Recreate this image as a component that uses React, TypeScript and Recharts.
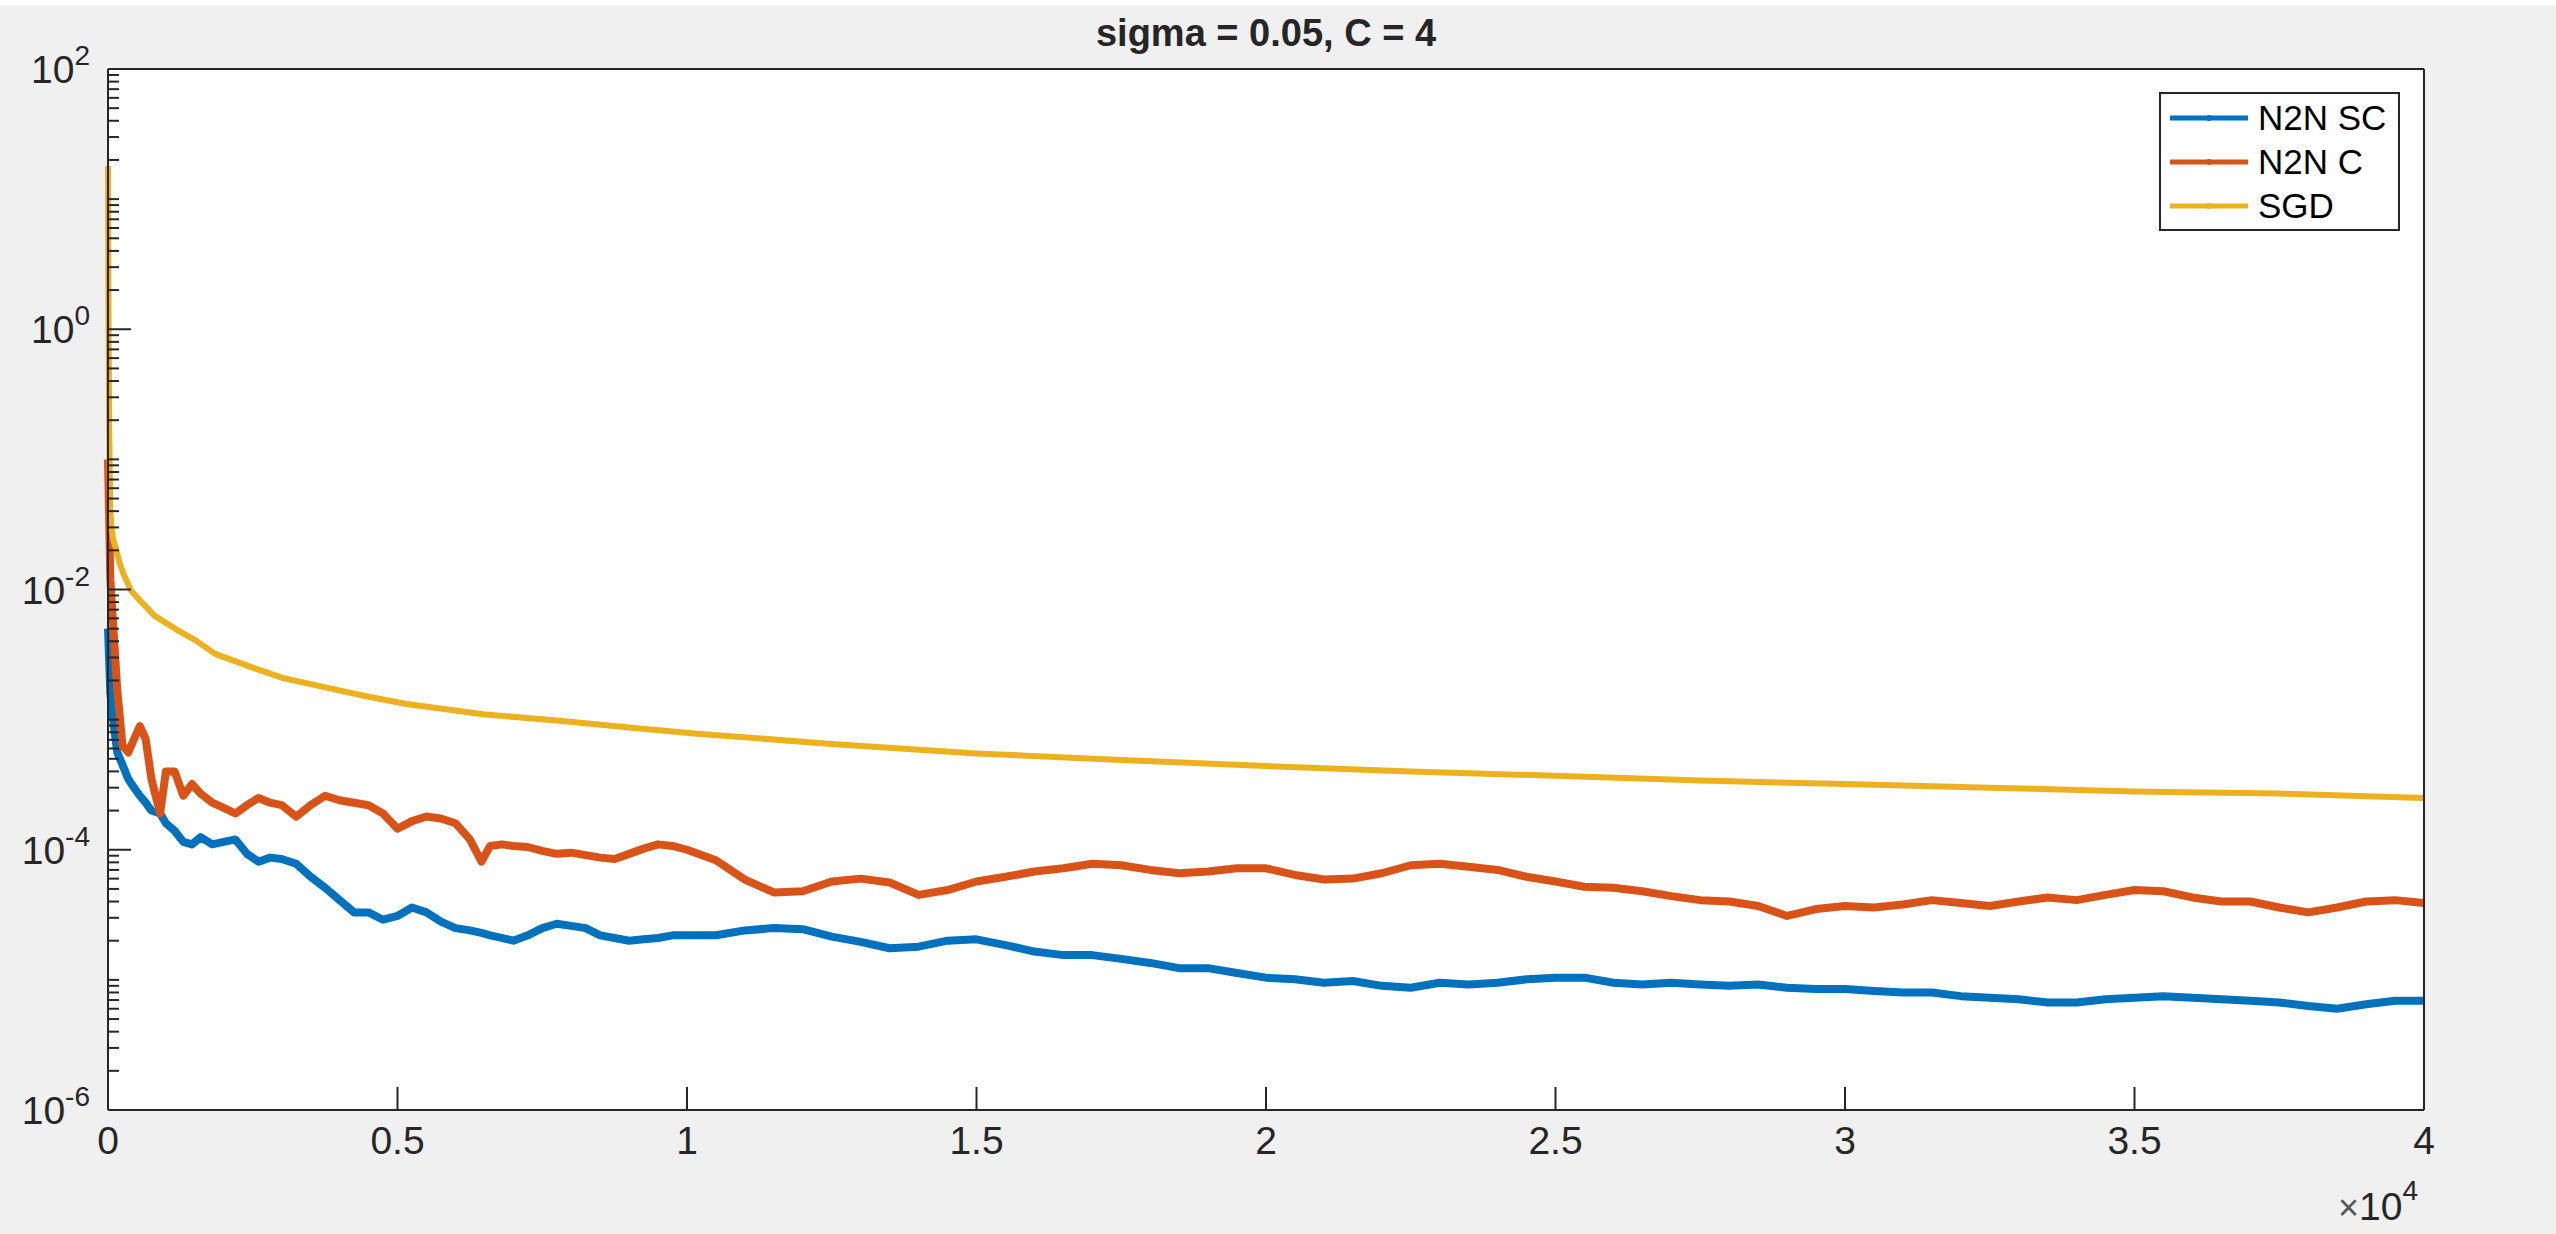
import React from 'react';
import { LineChart, Line, XAxis, YAxis, Legend, CartesianGrid, Customized } from 'recharts';

const FONT = '"Liberation Sans", Arial, Helvetica, sans-serif';
const INK = '#262626';

const titleText = 'sigma = 0.05, C = 4';
const seriesNames = ['N2N SC', 'N2N C', 'SGD'];
const seriesColors = ['#0072BD', '#D95319', '#EDB120'];

// x ticks are iterations; labels are shown in units of 10^4
const xTicks = [0, 5000, 10000, 15000, 20000, 25000, 30000, 35000, 40000];
const xExponent = 4;
// decades of the log y axis; every other one is labelled
const yDecades = [1e-6, 1e-5, 1e-4, 1e-3, 1e-2, 1e-1, 1, 10, 100];

// iterations at which the two noisy N2N curves were read
const noisyIters = [
  0, 40, 100, 160, 250, 350, 450, 550, 650, 750,
  900, 1000, 1150, 1300, 1450, 1600, 1800, 2000, 2200, 2400,
  2600, 2800, 3000, 3250, 3500, 3750, 4000, 4250, 4500, 4750,
  5000, 5250, 5500, 5750, 6000, 6250, 6450, 6600, 6800, 7000,
  7250, 7500, 7750, 8000, 8250, 8500, 8750, 9000, 9250, 9500,
  9750, 10000,
  10500, 11000, 11500, 12000, 12500, 13000, 13500, 14000, 14500, 15000,
  15500, 16000, 16500, 17000, 17500, 18000, 18500, 19000, 19500, 20000,
  20500, 21000, 21500, 22000, 22500, 23000, 23500, 24000, 24500, 25000,
  25500, 26000, 26500, 27000, 27500, 28000, 28500, 29000, 29500, 30000,
  30500, 31000, 31500, 32000, 32500, 33000, 33500, 34000, 34500, 35000,
  35500, 36000, 36500, 37000, 37500, 38000, 38500, 39000, 39500, 40000,
];

const n2nScLoss = [
  5e-3, 1.6e-3, 9e-4, 5.6e-4, 4.5e-4, 3.5e-4, 3.0e-4, 2.6e-4, 2.3e-4, 2.0e-4,
  1.9e-4, 1.6e-4, 1.4e-4, 1.15e-4, 1.1e-4, 1.25e-4, 1.1e-4, 1.15e-4, 1.2e-4, 9.3e-5,
  8.1e-5, 8.7e-5, 8.5e-5, 7.8e-5, 6.2e-5, 5.1e-5, 4.1e-5, 3.3e-5, 3.3e-5, 2.9e-5,
  3.1e-5, 3.6e-5, 3.3e-5, 2.8e-5, 2.5e-5, 2.4e-5, 2.3e-5, 2.2e-5, 2.1e-5, 2.0e-5,
  2.2e-5, 2.5e-5, 2.7e-5, 2.6e-5, 2.5e-5, 2.2e-5, 2.1e-5, 2.0e-5, 2.05e-5, 2.1e-5,
  2.2e-5, 2.2e-5,
  2.2e-5, 2.4e-5, 2.5e-5, 2.45e-5, 2.15e-5, 1.96e-5, 1.75e-5, 1.8e-5, 2.0e-5, 2.05e-5,
  1.85e-5, 1.65e-5, 1.55e-5, 1.55e-5, 1.45e-5, 1.35e-5, 1.23e-5, 1.23e-5, 1.13e-5, 1.04e-5,
  1.01e-5, 9.5e-6, 9.8e-6, 9.0e-6, 8.7e-6, 9.5e-6, 9.2e-6, 9.5e-6, 1.01e-5, 1.04e-5,
  1.04e-5, 9.5e-6, 9.2e-6, 9.5e-6, 9.2e-6, 9.0e-6, 9.2e-6, 8.7e-6, 8.5e-6, 8.5e-6,
  8.2e-6, 8.0e-6, 8.0e-6, 7.5e-6, 7.3e-6, 7.1e-6, 6.7e-6, 6.7e-6, 7.1e-6, 7.3e-6,
  7.5e-6, 7.3e-6, 7.1e-6, 6.9e-6, 6.7e-6, 6.3e-6, 6.0e-6, 6.5e-6, 6.9e-6, 6.9e-6,
];

const n2nCLoss = [
  0.1, 0.012, 4.5e-3, 1.7e-3, 6.3e-4, 5.6e-4, 7.1e-4, 8.9e-4, 7.1e-4, 3.5e-4,
  1.9e-4, 4.0e-4, 4.0e-4, 2.6e-4, 3.2e-4, 2.7e-4, 2.3e-4, 2.1e-4, 1.9e-4, 2.2e-4,
  2.5e-4, 2.3e-4, 2.2e-4, 1.8e-4, 2.2e-4, 2.6e-4, 2.4e-4, 2.3e-4, 2.2e-4, 1.9e-4,
  1.45e-4, 1.66e-4, 1.8e-4, 1.74e-4, 1.6e-4, 1.2e-4, 8.1e-5, 1.07e-4, 1.1e-4, 1.07e-4,
  1.05e-4, 9.8e-5, 9.3e-5, 9.5e-5, 9.1e-5, 8.7e-5, 8.5e-5, 9.3e-5, 1.02e-4, 1.1e-4,
  1.07e-4, 1.0e-4,
  8.3e-5, 5.9e-5, 4.7e-5, 4.8e-5, 5.7e-5, 6.0e-5, 5.6e-5, 4.5e-5, 4.9e-5, 5.7e-5,
  6.2e-5, 6.8e-5, 7.2e-5, 7.8e-5, 7.6e-5, 7.0e-5, 6.6e-5, 6.8e-5, 7.2e-5, 7.2e-5,
  6.4e-5, 5.9e-5, 6.0e-5, 6.6e-5, 7.6e-5, 7.8e-5, 7.4e-5, 7.0e-5, 6.2e-5, 5.7e-5,
  5.2e-5, 5.1e-5, 4.8e-5, 4.4e-5, 4.1e-5, 4.0e-5, 3.7e-5, 3.1e-5, 3.5e-5, 3.7e-5,
  3.6e-5, 3.8e-5, 4.1e-5, 3.9e-5, 3.7e-5, 4.0e-5, 4.3e-5, 4.1e-5, 4.5e-5, 4.9e-5,
  4.8e-5, 4.3e-5, 4.0e-5, 4.0e-5, 3.6e-5, 3.3e-5, 3.6e-5, 4.0e-5, 4.1e-5, 3.9e-5,
];

const sgdIters = [
  0, 10, 20, 35, 60, 90, 133, 200, 266, 400, 525, 800, 1190, 1500, 1851, 2511,
  3000, 3834, 4500, 5154, 6478, 7800, 9000, 10180, 12500, 15000, 17500, 20000,
  22500, 25000, 27500, 30000, 32500, 35000, 37500, 40000,
];
const sgdLoss = [
  18, 1.0, 0.2, 0.043, 0.03, 0.024, 0.021, 0.016, 0.0132, 0.0098, 0.0085, 0.0063,
  0.0049, 0.0041, 0.0032, 0.0025, 0.0021, 0.00174, 0.0015, 0.00132, 0.0011, 0.00098,
  0.00087, 0.00078, 0.00065, 0.00055, 0.00049, 0.00044, 0.0004, 0.00037, 0.00034,
  0.00032, 0.0003, 0.00028, 0.00027, 0.00025,
];

const n2nScData = noisyIters.map((x, i) => ({ x, y: n2nScLoss[i] }));
const n2nCData = noisyIters.map((x, i) => ({ x, y: n2nCLoss[i] }));
const sgdData = sgdIters.map((x, i) => ({ x, y: sgdLoss[i] }));
const seriesData = [n2nScData, n2nCData, sgdData];
const seriesWidths = [8, 8, 6];

// minor ticks at 1..9 x each decade, plus the top decade
const yTicks: number[] = [];
yDecades.forEach((d, i) => {
  if (i === yDecades.length - 1) {
    yTicks.push(d);
    return;
  }
  for (let m = 1; m <= 9; m++) yTicks.push(Number((m * d).toPrecision(3)));
});

const MAJOR = 23;
const MINOR = 11;

function yTickKind(v: number) {
  const e = Math.round(Math.log10(v));
  const decade = Math.abs(v / Math.pow(10, e) - 1) < 1e-6;
  return { e, major: decade && e % 2 === 0 };
}

const LeftTick = (props: any) => {
  const { x, y, payload } = props;
  const { e, major } = yTickKind(payload.value);
  return (
    <g>
      <line x1={x} x2={x + (major ? MAJOR : MINOR)} y1={y} y2={y} stroke={INK} strokeWidth={2} />
      {major && (
        <text x={x - 18} y={y + 14} textAnchor="end" fill={INK} fontFamily={FONT} fontSize={39}>
          10<tspan dy={-18} fontSize={28}>{e}</tspan>
        </text>
      )}
    </g>
  );
};

const RightTick = (props: any) => {
  const { x, y, payload } = props;
  const { major } = yTickKind(payload.value);
  return <line x1={x} x2={x - (major ? MAJOR : MINOR)} y1={y} y2={y} stroke={INK} strokeWidth={2} />;
};

const BottomTick = (props: any) => {
  const { x, y, payload } = props;
  const v = payload.value;
  const isLast = v === xTicks[xTicks.length - 1];
  return (
    <g>
      <line x1={x} x2={x} y1={y} y2={y - MAJOR} stroke={INK} strokeWidth={2} />
      <text x={x} y={y + 44} textAnchor="middle" fill={INK} fontFamily={FONT} fontSize={39}>
        {String(v / Math.pow(10, xExponent))}
      </text>
      {isLast && (
        <text x={x - 6} y={y + 110} textAnchor="end" fill={INK} fontFamily={FONT} fontSize={39}>
          <tspan fill="#555" fontSize={36}>×</tspan>10<tspan dy={-20} fontSize={28}>{xExponent}</tspan>
        </text>
      )}
    </g>
  );
};

const TopTick = (props: any) => {
  const { x, y } = props;
  return <line x1={x} x2={x} y1={y} y2={y + MAJOR} stroke={INK} strokeWidth={2} />;
};

const Title = () => (
  <text x={1266} y={46} textAnchor="middle" fill={INK} fontFamily={FONT} fontSize={38} fontWeight="bold">
    {titleText}
  </text>
);

const LegendBox = () => (
  <svg width={241} height={139} style={{ display: 'block' }}>
    <rect x={1} y={1} width={239} height={137} fill="#fff" stroke={INK} strokeWidth={2} />
    {seriesNames.map((name, i) => {
      const ly = 26 + i * 44;
      return (
        <g key={name}>
          <line x1={11} x2={89} y1={ly} y2={ly} stroke={seriesColors[i]} strokeWidth={5} />
          <circle cx={50} cy={ly} r={3} fill={seriesColors[i]} />
          <text x={99} y={ly + 12} fill="#000" fontFamily={FONT} fontSize={35}>
            {name}
          </text>
        </g>
      );
    })}
  </svg>
);

export default function App() {
  return (
    <div style={{ position: 'absolute', left: 0, top: 0, width: 2556, height: 1234, background: '#fff' }}>
      <div style={{ position: 'absolute', left: 0, top: 5, width: 2556, height: 1229, background: '#f0f0f0' }} />
      <div style={{ position: 'absolute', left: 0, top: 0 }}>
        <LineChart width={2556} height={1234} margin={{ top: 0, right: 0, bottom: 0, left: 0 }}>
          <CartesianGrid horizontal={false} vertical={false} fill="#ffffff" />
          <XAxis
            xAxisId="bottom"
            dataKey="x"
            type="number"
            domain={[0, 40000]}
            ticks={xTicks}
            interval={0}
            height={124}
            tickSize={0}
            tickMargin={0}
            tickLine={false}
            tick={<BottomTick />}
            axisLine={{ stroke: INK, strokeWidth: 2 }}
          />
          <XAxis
            xAxisId="top"
            orientation="top"
            dataKey="x"
            type="number"
            domain={[0, 40000]}
            ticks={xTicks}
            interval={0}
            height={69}
            tickSize={0}
            tickMargin={0}
            tickLine={false}
            tick={<TopTick />}
            axisLine={{ stroke: INK, strokeWidth: 2 }}
          />
          <YAxis
            yAxisId="left"
            dataKey="y"
            type="number"
            scale="log"
            domain={[1e-6, 100]}
            ticks={yTicks}
            interval={0}
            width={108}
            tickSize={0}
            tickMargin={0}
            tickLine={false}
            tick={<LeftTick />}
            axisLine={{ stroke: INK, strokeWidth: 2 }}
          />
          <YAxis
            yAxisId="right"
            orientation="right"
            dataKey="y"
            type="number"
            scale="log"
            domain={[1e-6, 100]}
            ticks={yTicks}
            interval={0}
            width={132}
            tickSize={0}
            tickMargin={0}
            tickLine={false}
            tick={<RightTick />}
            axisLine={{ stroke: INK, strokeWidth: 2 }}
          />
          {seriesNames.map((name, i) => (
            <Line
              key={name}
              name={name}
              data={seriesData[i]}
              dataKey="y"
              xAxisId="bottom"
              yAxisId="left"
              type="linear"
              stroke={seriesColors[i]}
              strokeWidth={seriesWidths[i]}
              strokeLinejoin="round"
              dot={false}
              activeDot={false}
              isAnimationActive={false}
            />
          ))}
          <Legend
            layout="horizontal"
            verticalAlign="middle"
            align="center"
            wrapperStyle={{ left: 2159, top: 92, width: 241, height: 139 }}
            content={() => <LegendBox />}
          />
          <Customized component={<Title />} />
        </LineChart>
      </div>
    </div>
  );
}
